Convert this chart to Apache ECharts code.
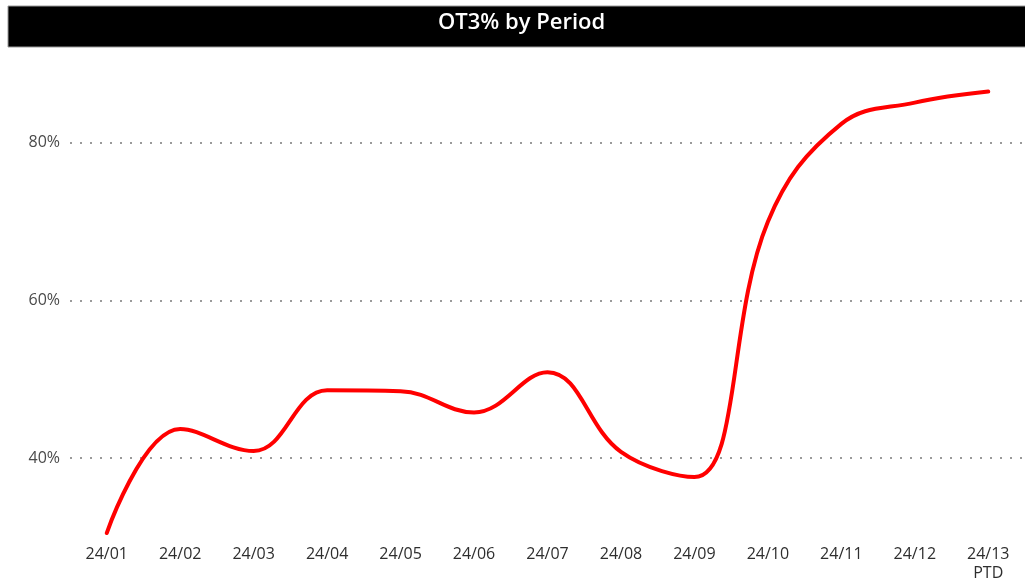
<!DOCTYPE html>
<html>
<head>
<meta charset="utf-8">
<title>OT3% by Period</title>
<script src="https://cdn.jsdelivr.net/npm/echarts@6/dist/echarts.min.js"></script>
<style>
  html, body { margin: 0; padding: 0; background: #fff; }
  #chart { width: 1025px; height: 583px; }
</style>
</head>
<body>
<div id="chart"></div>
<script>
// Periods shown along the bottom axis
const periods = ['24/01', '24/02', '24/03', '24/04', '24/05', '24/06', '24/07',
                 '24/08', '24/09', '24/10', '24/11', '24/12', '24/13\nPTD'];
// OT3% value for each period (percent)
const ot3Values = [30.5, 43.7, 40.9, 48.6, 48.5, 45.8, 50.9, 40.8, 37.6, 70.0, 82.4, 85.1, 86.5];
// Percent levels that carry a label and a dotted guide line
const yTicks = [40, 60, 80];

const chart = echarts.init(document.getElementById('chart'), null, { renderer: 'canvas' });

const FONT = '"Open Sans", Lato, sans-serif';

chart.setOption({
  backgroundColor: '#ffffff',
  animation: false,
  title: {
    text: 'OT3% by Period',
    left: 438,
    top: 12,
    padding: 0,
    textStyle: { color: '#ffffff', fontSize: 22, fontWeight: 600, fontFamily: FONT }
  },
  graphic: [{
    type: 'rect',
    z: -1,
    shape: { x: 8, y: 6, width: 1020, height: 41 },
    style: { fill: '#000000', stroke: '#9a9a9a', lineWidth: 1 }
  }],
  grid: { left: 70, top: 64, width: 971, bottom: 46, containLabel: false },
  xAxis: {
    type: 'category',
    data: periods,
    boundaryGap: true,
    axisLine: { show: false },
    axisTick: { show: false },
    axisLabel: {
      color: '#2e2e2e', fontSize: 16, fontWeight: 500, fontFamily: FONT, margin: 8,
      interval: 0, lineHeight: 19, verticalAlign: 'top'
    },
    splitLine: { show: false }
  },
  yAxis: {
    type: 'value',
    min: 30,
    max: 90,
    interval: 10,
    axisLine: { show: false },
    axisTick: { show: false },
    axisLabel: {
      color: '#4a4a4a', fontSize: 16, fontWeight: 500, fontFamily: FONT, margin: 10,
      formatter: v => (yTicks.indexOf(v) >= 0 ? v + '%' : '')
    },
    splitLine: {
      show: true,
      // guides only at the labelled levels (every other tick)
      lineStyle: { color: ['rgba(0,0,0,0)', '#9a9a9a'], width: 2, type: [2, 8] }
    }
  },
  series: [{
    type: 'line',
    data: ot3Values,
    smooth: 0.4,
    symbol: 'none',
    lineStyle: { color: '#ff0000', width: 4, cap: 'round', join: 'round' },
    itemStyle: { color: '#ff0000' }
  }]
});
</script>
</body>
</html>
